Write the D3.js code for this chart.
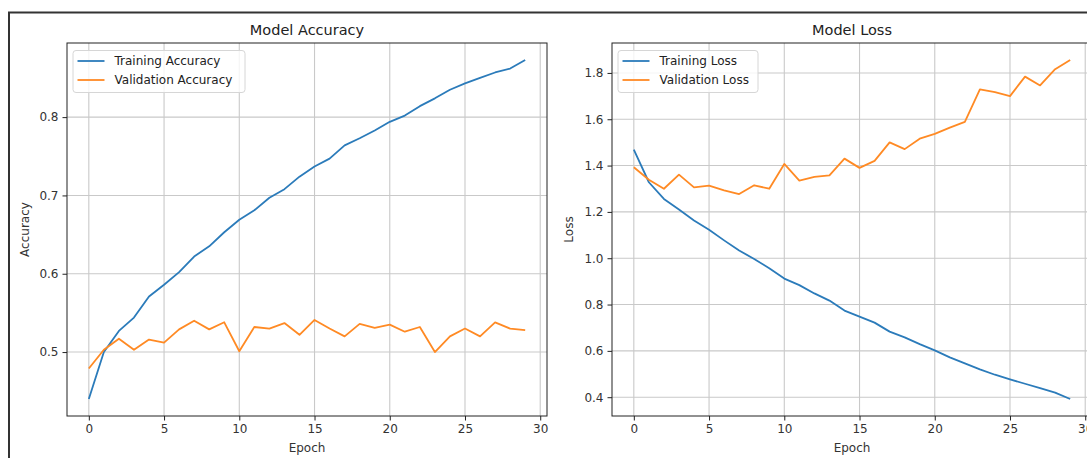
<!DOCTYPE html>
<html>
<head>
  <meta charset="utf-8">
  <title>Model Accuracy / Model Loss</title>
  <script src="https://d3js.org/d3.v7.min.js"></script>
  <style>
    body { margin: 0; background: #fff; }
    svg { display: block; font-family: "DejaVu Sans", sans-serif; }
  </style>
</head>
<body>
  <div id="chart"></div>

  <script>
    // Data
    const epochs = d3.range(30);

    const trainAcc = [0.440, 0.500, 0.527, 0.544, 0.571, 0.586, 0.602, 0.622, 0.635, 0.653,
                      0.669, 0.681, 0.697, 0.708, 0.724, 0.737, 0.747, 0.764, 0.773, 0.783,
                      0.794, 0.802, 0.814, 0.824, 0.835, 0.843, 0.850, 0.857, 0.862, 0.873];
    const valAcc = [0.479, 0.503, 0.517, 0.503, 0.516, 0.512, 0.529, 0.540, 0.529, 0.538,
                    0.501, 0.532, 0.530, 0.537, 0.522, 0.541, 0.530, 0.520, 0.536, 0.531,
                    0.535, 0.526, 0.532, 0.500, 0.520, 0.530, 0.520, 0.538, 0.530, 0.528];

    const trainLoss = [1.469, 1.328, 1.256, 1.210, 1.163, 1.123, 1.077, 1.033, 0.997, 0.957,
                       0.912, 0.884, 0.848, 0.817, 0.774, 0.748, 0.722, 0.683, 0.658, 0.629,
                       0.602, 0.572, 0.546, 0.520, 0.497, 0.477, 0.458, 0.439, 0.420, 0.392];
    const valLoss = [1.393, 1.339, 1.300, 1.361, 1.306, 1.313, 1.293, 1.277, 1.315, 1.300,
                     1.407, 1.335, 1.351, 1.358, 1.430, 1.390, 1.420, 1.500, 1.471, 1.516,
                     1.537, 1.564, 1.589, 1.729, 1.717, 1.700, 1.784, 1.746, 1.816, 1.856];

    const xTicks = [0, 5, 10, 15, 20, 25, 30];
    const accTicks = [0.5, 0.6, 0.7, 0.8];
    const lossTicks = [0.4, 0.6, 0.8, 1.0, 1.2, 1.4, 1.6, 1.8];

    const width = 1087;
    const height = 458;
    const blue = '#2b7bba';
    const orange = '#ff8a24';

    const svg = d3.select('#chart')
      .append('svg')
      .attr('width', width)
      .attr('height', height);

    svg.append('rect')
      .attr('width', width).attr('height', height)
      .attr('fill', '#fff');

    // dark frame round the figure (runs off right and bottom)
    svg.append('rect')
      .attr('x', 9).attr('y', 12.5)
      .attr('width', 1200).attr('height', 600)
      .attr('fill', 'none')
      .attr('stroke', '#333')
      .attr('stroke-width', 2);

    // matplotlib style 5% margins
    function padded(values) {
      const lo = d3.min(values), hi = d3.max(values);
      const m = (hi - lo) * 0.05;
      return [lo - m, hi + m];
    }

    function drawPanel(opts) {
      const { left, top, w, h, title, yLabel, yTicks, series, legendW } = opts;
      const g = svg.append('g').attr('transform', `translate(${left},${top})`);

      const xScale = d3.scaleLinear()
        .domain(padded(epochs))
        .range([0, w]);

      const yScale = d3.scaleLinear()
        .domain(padded(series[0].values.concat(series[1].values)))
        .range([h, 0]);

      // grid
      g.append('g')
        .selectAll('line')
        .data(xTicks)
        .join('line')
        .attr('x1', d => xScale(d)).attr('x2', d => xScale(d))
        .attr('y1', 0).attr('y2', h)
        .attr('stroke', '#c9c9c9').attr('stroke-width', 1.1);

      g.append('g')
        .selectAll('line')
        .data(yTicks)
        .join('line')
        .attr('x1', 0).attr('x2', w)
        .attr('y1', d => yScale(d)).attr('y2', d => yScale(d))
        .attr('stroke', '#c9c9c9').attr('stroke-width', 1.1);

      // axes
      const xAxis = g.append('g')
        .attr('transform', `translate(0,${h})`)
        .call(d3.axisBottom(xScale).tickValues(xTicks).tickFormat(d3.format('d')).tickSize(4.5).tickPadding(4));
      const yAxis = g.append('g')
        .call(d3.axisLeft(yScale).tickValues(yTicks).tickFormat(d3.format('.1f')).tickSize(4.5).tickPadding(4));

      [xAxis, yAxis].forEach(a => {
        a.select('.domain').remove();
        a.selectAll('line').attr('stroke', '#222');
        a.selectAll('text')
          .attr('fill', '#333')
          .style('font-size', '12px')
          .style('font-family', '"DejaVu Sans", sans-serif');
      });

      // lines
      const line = vals => d3.line()
        .x((d, i) => xScale(epochs[i]))
        .y(d => yScale(d))(vals);

      series.forEach(s => {
        g.append('path')
          .attr('d', line(s.values))
          .attr('fill', 'none')
          .attr('stroke', s.color)
          .attr('stroke-width', 1.8)
          .attr('stroke-linejoin', 'round');
      });

      // frame of axes
      g.append('rect')
        .attr('width', w).attr('height', h)
        .attr('fill', 'none')
        .attr('stroke', '#222')
        .attr('stroke-width', 1);

      // titles
      g.append('text')
        .attr('x', w / 2).attr('y', -8)
        .attr('text-anchor', 'middle')
        .attr('fill', '#222')
        .style('font-size', '14.5px')
        .text(title);

      g.append('text')
        .attr('x', w / 2).attr('y', h + 36)
        .attr('text-anchor', 'middle')
        .attr('fill', '#333')
        .style('font-size', '12px')
        .text('Epoch');

      g.append('text')
        .attr('transform', `translate(${opts.yLabelX},${h / 2}) rotate(-90)`)
        .attr('text-anchor', 'middle')
        .attr('fill', '#333')
        .style('font-size', '12px')
        .text(yLabel);

      // legend
      const lg = g.append('g').attr('transform', 'translate(6,7.5)');
      lg.append('rect')
        .attr('width', legendW).attr('height', 42)
        .attr('rx', 3)
        .attr('fill', 'rgba(255,255,255,0.8)')
        .attr('stroke', '#d6d6d6');
      series.forEach((s, i) => {
        const y = 10.5 + i * 19;
        lg.append('line')
          .attr('x1', 4.5).attr('x2', 31.5)
          .attr('y1', y).attr('y2', y)
          .attr('stroke', s.color).attr('stroke-width', 1.8);
        lg.append('text')
          .attr('x', 41.5).attr('y', y + 4.3)
          .attr('fill', '#222')
          .style('font-size', '12px')
          .text(s.name);
      });
    }

    drawPanel({
      left: 67, top: 43, w: 480, h: 373,
      title: 'Model Accuracy', yLabel: 'Accuracy', yLabelX: -38,
      yTicks: accTicks, legendW: 172,
      series: [
        { name: 'Training Accuracy', values: trainAcc, color: blue },
        { name: 'Validation Accuracy', values: valAcc, color: orange }
      ]
    });

    drawPanel({
      left: 612, top: 43, w: 480, h: 373,
      title: 'Model Loss', yLabel: 'Loss', yLabelX: -39,
      yTicks: lossTicks, legendW: 140,
      series: [
        { name: 'Training Loss', values: trainLoss, color: blue },
        { name: 'Validation Loss', values: valLoss, color: orange }
      ]
    });
  </script>
</body>
</html>
